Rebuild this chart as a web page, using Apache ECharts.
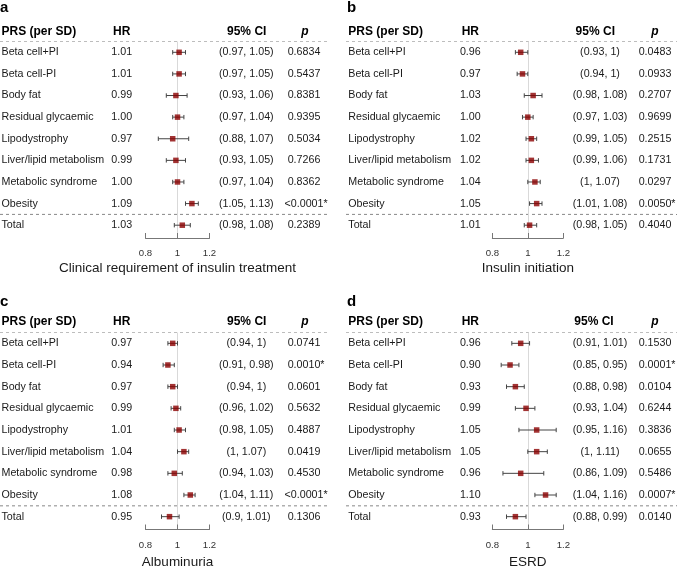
<!DOCTYPE html>
<html>
<head>
<meta charset="utf-8">
<script src="https://cdn.jsdelivr.net/npm/echarts@6/dist/echarts.min.js"></script>
<style>
html,body{margin:0;padding:0;background:#fff;}
#chart{width:677px;height:567px;}
</style>
</head>
<body>
<div id="chart"></div>
<script>
// ---------- data ----------
const rowLabels = ['Beta cell+PI','Beta cell-PI','Body fat','Residual glycaemic','Lipodystrophy','Liver/lipid metabolism','Metabolic syndrome','Obesity','Total'];
const panelLetters = ['a','b','c','d'];
const panelTitles = ['Clinical requirement of insulin treatment','Insulin initiation','Albuminuria','ESRD'];
const headerLabels = ['PRS (per SD)','HR','95% CI','p'];
const xMin = 0.8, xMax = 1.2, xStep = 0.2;

const hrA = [1.01,1.01,0.99,1.00,0.97,0.99,1.00,1.09,1.03];
const loA = [0.97,0.97,0.93,0.97,0.88,0.93,0.97,1.05,0.98];
const hiA = [1.05,1.05,1.06,1.04,1.07,1.05,1.04,1.13,1.08];
const pA  = ['0.6834','0.5437','0.8381','0.9395','0.5034','0.7266','0.8362','<0.0001*','0.2389'];

const hrB = [0.96,0.97,1.03,1.00,1.02,1.02,1.04,1.05,1.01];
const loB = [0.93,0.94,0.98,0.97,0.99,0.99,1,1.01,0.98];
const hiB = [1,1,1.08,1.03,1.05,1.06,1.07,1.08,1.05];
const pB  = ['0.0483','0.0933','0.2707','0.9699','0.2515','0.1731','0.0297','0.0050*','0.4040'];

const hrC = [0.97,0.94,0.97,0.99,1.01,1.04,0.98,1.08,0.95];
const loC = [0.94,0.91,0.94,0.96,0.98,1,0.94,1.04,0.9];
const hiC = [1,0.98,1,1.02,1.05,1.07,1.03,1.11,1.01];
const pC  = ['0.0741','0.0010*','0.0601','0.5632','0.4887','0.0419','0.4530','<0.0001*','0.1306'];

const hrD = [0.96,0.90,0.93,0.99,1.05,1.05,0.96,1.10,0.93];
const loD = [0.91,0.85,0.88,0.93,0.95,1,0.86,1.04,0.88];
const hiD = [1.01,0.95,0.98,1.04,1.16,1.11,1.09,1.16,0.99];
const pD  = ['0.1530','0.0001*','0.0104','0.6244','0.3836','0.0655','0.5486','0.0007*','0.0140'];

// ---------- layout ----------
const FONT = '"Liberation Sans", Arial, Helvetica, sans-serif';
const TXT = '#1a1a1a';
const panels = [
  {hr:hrA, lo:loA, hi:hiA, p:pA, gx:145.5, gw:64, gy:41.5, gh:194.5, labelX:1.5, hrX:121.7, ciX:246.3, pX:304, hCiX:246.7, hPX:305, lx0:0, lx1:329, letterX:0, letterY:8, headY:31.7, nameGap:23, lblMargin:10},
  {hr:hrB, lo:loB, hi:hiB, p:pB, gx:492.3, gw:71, gy:41.5, gh:194.5, labelX:348.3, hrX:470.3, ciX:600, pX:655, hCiX:595.3, hPX:655, lx0:346, lx1:677, letterX:347, letterY:8, headY:31.7, nameGap:23, lblMargin:10},
  {hr:hrC, lo:loC, hi:hiC, p:pC, gx:145.5, gw:64, gy:332.5, gh:195, labelX:1.5, hrX:121.7, ciX:246.3, pX:304, hCiX:246.7, hPX:305, lx0:0, lx1:329, letterX:0, letterY:302, headY:321.7, nameGap:26, lblMargin:11},
  {hr:hrD, lo:loD, hi:hiD, p:pD, gx:492.3, gw:71, gy:332.5, gh:195, labelX:348.3, hrX:470.3, ciX:600, pX:655, hCiX:594, hPX:655, lx0:346, lx1:677, letterX:347, letterY:302, headY:321.7, nameGap:26, lblMargin:11}
];

const grids = [], xAxes = [], yAxes = [], series = [], graphics = [];
const fmtCI = (a, b) => '(' + String(a) + ', ' + String(b) + ')';

panels.forEach((P, i) => {
  grids.push({left:P.gx, top:P.gy, width:P.gw, height:P.gh, containLabel:false, outerBoundsMode:'none'});
  xAxes.push({
    type:'value', gridIndex:i, min:xMin, max:xMax, interval:xStep, offset:2,
    name: panelTitles[i], nameLocation:'middle', nameGap:P.nameGap,
    nameTextStyle:{fontFamily:FONT, fontSize:13.5, color:TXT},
    axisLine:{show:true, lineStyle:{color:'#777', width:1}},
    axisTick:{show:true, inside:true, length:5, lineStyle:{color:'#777'}},
    axisLabel:{fontFamily:FONT, fontSize:9.6, color:'#333', margin:P.lblMargin},
    splitLine:{show:true, lineStyle:{color:['rgba(0,0,0,0)','#d9d9d9','rgba(0,0,0,0)'], width:1}}
  });
  const base = yAxes.length;
  const cats = rowLabels.map((_, k) => String(k));
  const common = {type:'category', gridIndex:i, inverse:true, data:cats,
    axisLine:{show:false}, axisTick:{show:false}, splitLine:{show:false}};
  // row labels
  yAxes.push(Object.assign({}, common, {position:'left', offset:P.gx - P.labelX,
    axisLabel:{interval:0, margin:0, align:'left', fontFamily:FONT, fontSize:10.7, color:TXT,
      formatter:(v, k) => rowLabels[k]}}));
  // HR
  yAxes.push(Object.assign({}, common, {position:'left', offset:P.gx - P.hrX,
    axisLabel:{interval:0, margin:0, align:'center', fontFamily:FONT, fontSize:10.7, color:TXT,
      formatter:(v, k) => P.hr[k].toFixed(2)}}));
  // CI
  yAxes.push(Object.assign({}, common, {position:'right', offset:P.ciX - (P.gx + P.gw),
    axisLabel:{interval:0, margin:0, align:'center', fontFamily:FONT, fontSize:10.7, color:TXT,
      formatter:(v, k) => fmtCI(P.lo[k], P.hi[k])}}));
  // p (value centred, asterisk hanging on the right)
  yAxes.push(Object.assign({}, common, {position:'right', offset:P.pX - (P.gx + P.gw),
    axisLabel:{interval:0, margin:0, align:'center', fontFamily:FONT, fontSize:10.7, color:TXT,
      formatter:(v, k) => {
        const s = P.p[k];
        return s.endsWith('*') ? '{h|*}{v|' + s + '}' : '{v|' + s + '}';
      },
      rich:{v:{fontFamily:FONT, fontSize:10.7, color:TXT},
            h:{fontFamily:FONT, fontSize:10.7, color:'rgba(0,0,0,0)'}}}}));

  // error bars
  series.push({
    type:'custom', xAxisIndex:i, yAxisIndex:base, z:3,
    data: P.lo.map((l, k) => [l, P.hi[k], k]),
    encode:{x:[0,1], y:2},
    renderItem:(params, api) => {
      const y = api.value(2);
      const a = api.coord([api.value(0), y]);
      const b = api.coord([api.value(1), y]);
      const h = 2.2;
      const st = {stroke:'#444', lineWidth:1};
      return {type:'group', children:[
        {type:'line', shape:{x1:a[0], y1:a[1], x2:b[0], y2:b[1]}, style:st},
        {type:'line', shape:{x1:a[0], y1:a[1]-h, x2:a[0], y2:a[1]+h}, style:st},
        {type:'line', shape:{x1:b[0], y1:b[1]-h, x2:b[0], y2:b[1]+h}, style:st}
      ]};
    }
  });
  // points
  series.push({
    type:'scatter', xAxisIndex:i, yAxisIndex:base, z:4,
    symbol:'rect', symbolSize:5.5,
    itemStyle:{color:'#8b0000'},
    data: P.hr.map((v, k) => [v, k])
  });

  // headers and separators
  const hdrFont = 'bold 12px ' + FONT;
  graphics.push({type:'text', x:P.labelX, y:P.headY, style:{text:headerLabels[0], font:hdrFont, fill:'#000', align:'left', verticalAlign:'middle'}});
  graphics.push({type:'text', x:P.hrX, y:P.headY, style:{text:headerLabels[1], font:hdrFont, fill:'#000', align:'center', verticalAlign:'middle'}});
  graphics.push({type:'text', x:P.hCiX, y:P.headY, style:{text:headerLabels[2], font:hdrFont, fill:'#000', align:'center', verticalAlign:'middle'}});
  graphics.push({type:'text', x:P.hPX, y:P.headY, style:{text:headerLabels[3], font:'italic bold 12px ' + FONT, fill:'#000', align:'center', verticalAlign:'middle'}});
  graphics.push({type:'text', x:P.letterX, y:P.letterY, style:{text:panelLetters[i], font:'bold 15px ' + FONT, fill:'#000', align:'left', verticalAlign:'middle'}});
  const yTop = P.gy, yTot = P.gy + P.gh * 8 / 9;
  graphics.push({type:'line', shape:{x1:P.lx0, y1:yTop, x2:P.lx1, y2:yTop}, style:{stroke:'#bdbdbd', lineWidth:1, lineDash:[3,3]}});
  graphics.push({type:'line', shape:{x1:P.lx0, y1:yTot, x2:P.lx1, y2:yTot}, style:{stroke:'#888', lineWidth:1, lineDash:[3,3]}});
});

const chart = echarts.init(document.getElementById('chart'), null, {renderer:'canvas'});
chart.setOption({
  animation:false,
  backgroundColor:'#fff',
  grid:grids, xAxis:xAxes, yAxis:yAxes, series:series,
  graphic:{elements:graphics}
});
</script>
</body>
</html>
